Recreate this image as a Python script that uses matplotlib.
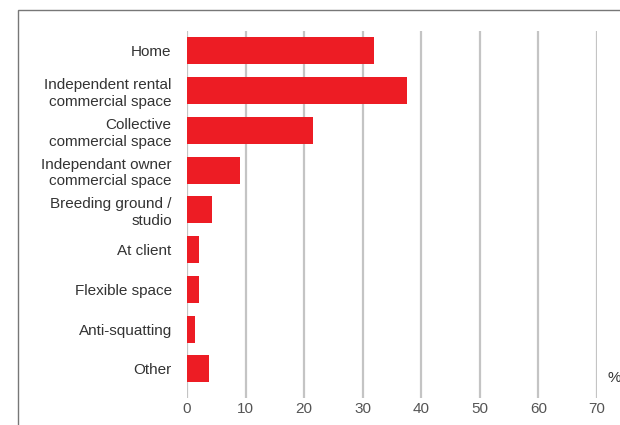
import matplotlib.pyplot as plt
from matplotlib.patches import Rectangle

plt.rcParams['font.family'] = ['Liberation Sans', 'DejaVu Sans']

categories = [
    "Home",
    "Independent rental\ncommercial space",
    "Collective\ncommercial space",
    "Independant owner\ncommercial space",
    "Breeding ground /\nstudio",
    "At client",
    "Flexible space",
    "Anti-squatting",
    "Other",
]
values = [31.9, 37.5, 21.5, 9.1, 4.2, 2.0, 2.0, 1.3, 3.7]
xticks = [0, 10, 20, 30, 40, 50, 60, 70]

RED = "#ED1C24"
GRID = "#C4C4C4"
TXT = "#333333"

fig = plt.figure(figsize=(6.2, 4.25), dpi=100)
ax = fig.add_axes([187 / 620, 1 - 398 / 425, 410 / 620, 367 / 425])

ypos = list(range(len(categories)))
ax.barh(ypos, values, height=0.68, color=RED, zorder=3)

ax.set_xlim(0, 70)
ax.set_ylim(8.73, -0.5)
ax.set_yticks(ypos)
ax.set_yticklabels(categories, fontsize=11, color=TXT, linespacing=1.25)
ax.set_xticks(xticks)
ax.set_xticklabels([str(t) for t in xticks], fontsize=11, color="#555555")
ax.tick_params(axis="y", length=0, pad=11)
ax.tick_params(axis="x", length=0, pad=3)

for t in xticks:
    ax.axvline(t, color=GRID, lw=1.6, zorder=1)
for s in ax.spines.values():
    s.set_visible(False)

fig.text(607 / 620, 1 - 378 / 425, "%", fontsize=11, color=TXT,
         va="center", ha="left")

# outer frame, running off the right and bottom edges
fig.patches.append(Rectangle((18 / 620, -0.1), 1.2, 1 - 10 / 425 + 0.1,
                             transform=fig.transFigure, fill=False,
                             edgecolor="#777777", lw=1.0))

fig.savefig("out.png", dpi=100, facecolor="white")
